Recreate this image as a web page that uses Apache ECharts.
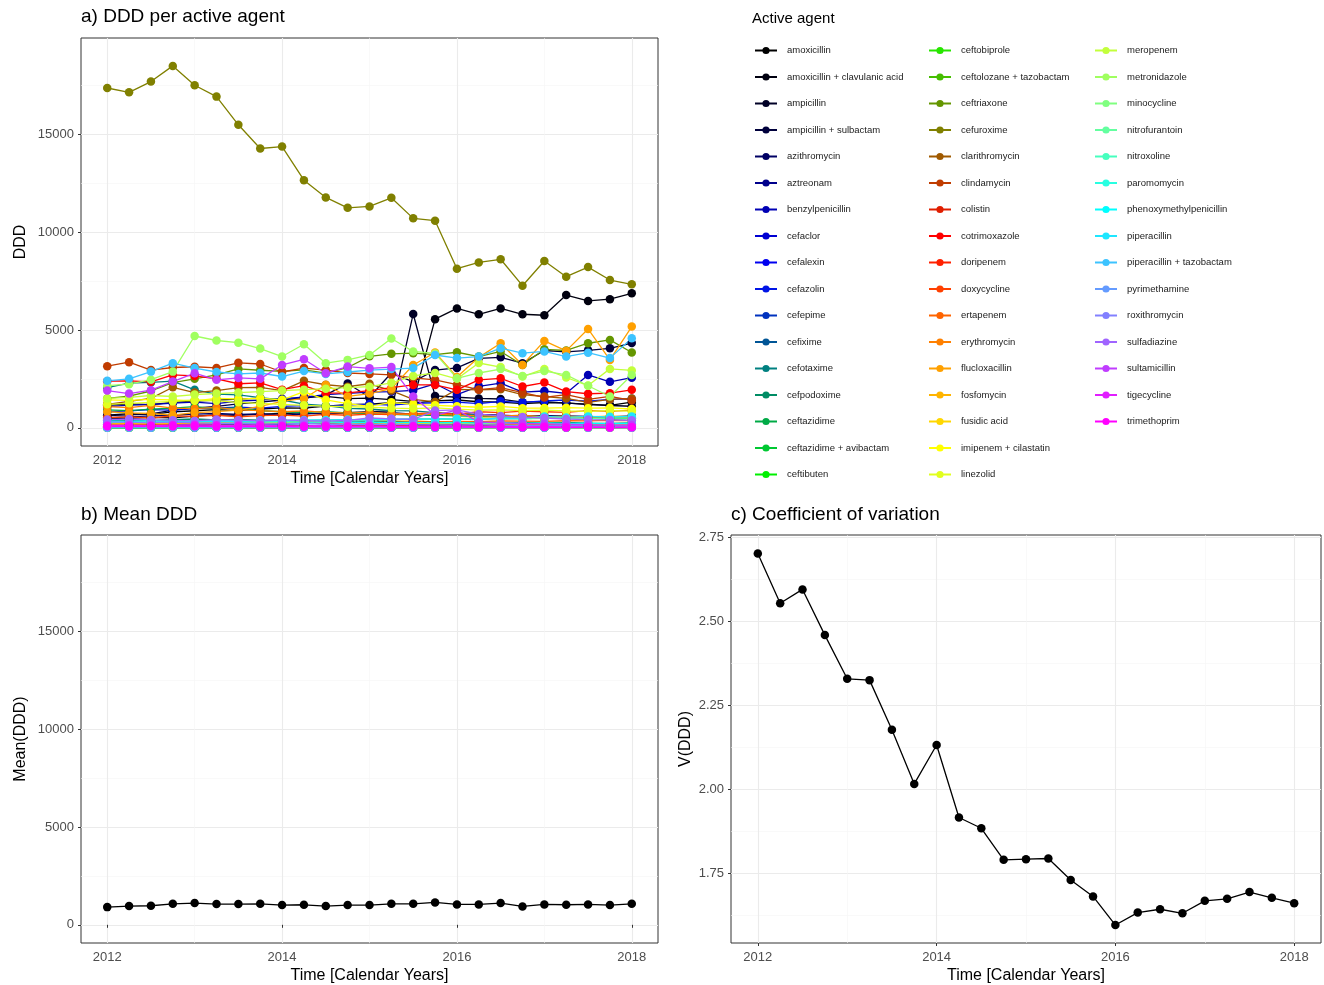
<!DOCTYPE html>
<html>
<head>
<meta charset="utf-8">
<script src="https://cdn.jsdelivr.net/npm/echarts@6/dist/echarts.min.js"></script>
<style>
html, body { margin: 0; padding: 0; background: #fff; }
#chart { width: 1324px; height: 985px; }
</style>
</head>
<body>
<div id="chart"></div>
<script>
// quarters 2012 .. 2018
var quarters = [2012, 2012.25, 2012.5, 2012.75, 2013, 2013.25, 2013.5, 2013.75, 2014, 2014.25, 2014.5, 2014.75,
  2015, 2015.25, 2015.5, 2015.75, 2016, 2016.25, 2016.5, 2016.75, 2017, 2017.25, 2017.5, 2017.75, 2018];

var yearTicks = [2012, 2014, 2016, 2018];
var yearMinor = [2013, 2015, 2017];
var dddTicks = [0, 5000, 10000, 15000];
var dddMinor = [2500, 7500, 12500, 17500];
var cvTicks = [1.75, 2.00, 2.25, 2.50, 2.75];
var cvMinor = [1.625, 1.875, 2.125, 2.375, 2.625];

var agents = ['amoxicillin', 'amoxicillin + clavulanic acid', 'ampicillin', 'ampicillin + sulbactam', 'azithromycin',
  'aztreonam', 'benzylpenicillin', 'cefaclor', 'cefalexin', 'cefazolin', 'cefepime', 'cefixime', 'cefotaxime',
  'cefpodoxime', 'ceftazidime', 'ceftazidime + avibactam', 'ceftibuten',
  'ceftobiprole', 'ceftolozane + tazobactam', 'ceftriaxone', 'cefuroxime', 'clarithromycin', 'clindamycin',
  'colistin', 'cotrimoxazole', 'doripenem', 'doxycycline', 'ertapenem', 'erythromycin', 'flucloxacillin',
  'fosfomycin', 'fusidic acid', 'imipenem + cilastatin', 'linezolid',
  'meropenem', 'metronidazole', 'minocycline', 'nitrofurantoin', 'nitroxoline', 'paromomycin',
  'phenoxymethylpenicillin', 'piperacillin', 'piperacillin + tazobactam', 'pyrimethamine', 'roxithromycin',
  'sulfadiazine', 'sultamicillin', 'tigecycline', 'trimethoprim'];

var agentColors = ['#000000', '#00000f', '#000026', '#00003c', '#000064', '#00008c', '#0000b4', '#0000d2', '#0000f0',
  '#0014e6', '#0032be', '#005596', '#008080', '#008c64', '#00aa46', '#00c832', '#00f000',
  '#28e600', '#46be00', '#649600', '#808000', '#a05a00', '#c03c00', '#e01e00', '#ff0000', '#ff2000',
  '#ff4000', '#ff6400', '#ff8000', '#ffa000', '#ffb400', '#ffd700', '#ffff00', '#e1ff1e',
  '#c3ff3c', '#a0ff60', '#80ff80', '#64ffa0', '#46ffbe', '#28ffe1', '#00ffff', '#1ee6ff', '#3cc3ff',
  '#649bff', '#8280ff', '#a064ff', '#c03cff', '#e11eff', '#ff00ff'];

// DDD per active agent, one array per agent
var amoxicillin = [640, 720, 690, 810, 870, 930, 880, 960, 1020, 1000, 1110, 1180, 1210, 1290, 1260, 1380, 1420, 1330, 1310, 1240, 1290, 1270, 1180, 1150, 1310];
var amoxiClav = [1150, 1220, 1180, 1300, 1360, 1410, 1470, 1520, 1380, 1560, 1610, 1490, 1520, 1440, 1350, 5550, 6100, 5800, 6100, 5800, 5750, 6780, 6480, 6570, 6870];
var ampicillin = [460, 480, 530, 510, 600, 660, 640, 700, 730, 760, 690, 780, 830, 860, 5816, 1630, 1560, 1500, 1470, 1310, 1340, 1260, 1210, 1140, 1100];
var ampiSulb = [620, 660, 710, 900, 1010, 1090, 1220, 1310, 1420, 1510, 1680, 2260, 1560, 2800, 2350, 2950, 3060, 3550, 3600, 3300, 3950, 3880, 3960, 4060, 4330];
var azithromycin = [520, 560, 610, 640, 700, 730, 680, 710, 640, 700, 760, 720, 800, 770, 700, 660, 710, 690, 650, 600, 620, 610, 580, 560, 610];
var aztreonam = [40, 45, 52, 55, 48, 60, 57, 50, 62, 66, 55, 61, 50, 56, 60, 64, 55, 61, 50, 57, 62, 66, 54, 60, 52];
var benzylpenicillin = [1080, 1160, 1190, 1260, 1310, 1240, 1360, 1420, 1490, 1560, 1690, 1760, 1820, 1850, 1910, 2250, 1690, 2120, 2280, 1820, 1880, 1760, 2700, 2350, 2560];
var cefaclor = [350, 320, 310, 330, 280, 300, 270, 250, 245, 230, 225, 200, 210, 185, 180, 175, 160, 150, 145, 130, 125, 110, 115, 100, 95];
var cefalexin = [150, 160, 140, 150, 130, 140, 150, 120, 130, 110, 120, 100, 110, 100, 90, 100, 80, 90, 85, 80, 70, 75, 80, 70, 65];
var cefazolin = [820, 860, 930, 900, 980, 1020, 1060, 1010, 1090, 1130, 1080, 1170, 1210, 1160, 1250, 1280, 1310, 1240, 1350, 1300, 1380, 1420, 1360, 1450, 1480];
var cefepime = [260, 280, 300, 290, 320, 340, 310, 350, 370, 360, 390, 410, 380, 420, 440, 430, 460, 450, 480, 470, 500, 490, 520, 510, 540];
var cefixime = [180, 170, 190, 160, 150, 170, 140, 130, 150, 120, 110, 130, 100, 110, 90, 100, 80, 90, 70, 80, 60, 70, 65, 55, 60];
var cefotaxime = [2050, 2280, 2320, 2380, 1940, 1720, 1680, 1540, 1420, 1210, 1130, 990, 960, 880, 860, 770, 720, 640, 610, 570, 530, 490, 500, 450, 470];
var cefpodoxime = [380, 410, 370, 420, 450, 400, 430, 390, 360, 380, 340, 350, 320, 330, 300, 310, 280, 290, 270, 260, 250, 270, 240, 230, 250];
var ceftazidime = [920, 880, 950, 1010, 1080, 980, 1020, 870, 820, 790, 830, 760, 720, 690, 650, 640, 610, 580, 560, 540, 500, 520, 480, 470, 490];
var ceftazAvi = [0, 0, 0, 0, 0, 0, 0, 0, 0, 0, 0, 0, 0, 0, 0, 0, 0, 0, 5, 10, 15, 20, 30, 25, 40];
var ceftibuten = [60, 55, 70, 65, 50, 60, 55, 45, 50, 40, 45, 35, 40, 30, 35, 30, 25, 30, 20, 25, 20, 15, 20, 15, 20];
var ceftobiprole = [0, 0, 0, 0, 5, 10, 8, 12, 10, 15, 12, 10, 8, 10, 12, 9, 11, 8, 10, 7, 9, 6, 8, 5, 7];
var ceftolTazo = [0, 0, 0, 0, 0, 0, 0, 0, 0, 0, 0, 0, 0, 0, 0, 10, 25, 40, 55, 60, 75, 80, 95, 90, 110];
var ceftriaxone = [1500, 1620, 1880, 2310, 2500, 2700, 3010, 2940, 2880, 2960, 2790, 3080, 3650, 3780, 3810, 3740, 3860, 3640, 3900, 3210, 4010, 3950, 4320, 4490, 3850];
var cefuroxime = [17360, 17140, 17690, 18490, 17500, 16920, 15480, 14270, 14370, 12650, 11770, 11240, 11310, 11750, 10700, 10580, 8130, 8450, 8610, 7260, 8520, 7720, 8210, 7550, 7330];
var clarithromycin = [1200, 1350, 1500, 2070, 1800, 1900, 2050, 2060, 1900, 2400, 2200, 2100, 2250, 1900, 1450, 1320, 1960, 1940, 1970, 1700, 1600, 1500, 1300, 1450, 1500];
var clindamycin = [3150, 3350, 2950, 3080, 3120, 3060, 3320, 3260, 2850, 3050, 2950, 2800, 2750, 2700, 2550, 2450, 2200, 1950, 2050, 1800, 1550, 1700, 1450, 1600, 1400];
var colistin = [60, 72, 64, 83, 71, 92, 86, 104, 93, 112, 101, 124, 117, 131, 122, 143, 133, 152, 141, 164, 150, 172, 161, 183, 170];
var cotrimoxazole = [2380, 2400, 2350, 2700, 2650, 2500, 2250, 2300, 1950, 2150, 1770, 1780, 1900, 2050, 2190, 2190, 1940, 2450, 2530, 2110, 2310, 1850, 1740, 1770, 1940];
var doripenem = [30, 35, 28, 40, 22, 18, 20, 15, 12, 10, 8, 6, 5, 4, 3, 2, 0, 0, 0, 0, 0, 0, 0, 0, 0];
var doxycycline = [520, 560, 500, 610, 580, 640, 560, 620, 650, 600, 690, 640, 700, 680, 720, 760, 700, 820, 780, 850, 820, 790, 880, 840, 900];
var ertapenem = [150, 170, 160, 190, 210, 200, 230, 220, 250, 240, 270, 260, 290, 280, 310, 300, 330, 320, 350, 340, 330, 360, 350, 380, 370];
var erythromycin = [1080, 1030, 1150, 1000, 980, 1040, 920, 880, 820, 860, 790, 750, 800, 720, 680, 700, 650, 620, 590, 640, 560, 600, 540, 580, 520];
var flucloxacillin = [820, 760, 730, 650, 780, 830, 900, 1100, 1350, 1500, 2190, 1600, 1750, 2000, 3210, 3850, 2600, 3600, 4320, 3210, 4440, 3930, 5050, 3470, 5170];
var fosfomycin = [200, 220, 250, 230, 270, 300, 280, 330, 310, 350, 340, 380, 400, 420, 390, 450, 470, 500, 480, 520, 540, 510, 560, 590, 570];
var fusidicAcid = [300, 280, 320, 290, 260, 300, 270, 250, 280, 240, 260, 230, 250, 220, 240, 210, 230, 200, 220, 190, 210, 180, 200, 170, 190];
var imipenem = [1430, 1400, 1450, 1420, 1380, 1500, 1470, 1510, 1430, 1850, 1430, 1230, 1090, 1300, 1200, 1150, 1100, 1050, 1090, 1000, 1010, 1030, 1000, 1020, 960];
var linezolid = [1200, 1250, 1300, 1350, 1420, 1380, 1300, 1250, 1200, 1150, 1100, 1080, 1050, 1000, 980, 1020, 950, 900, 920, 880, 900, 860, 840, 880, 850];
var meropenem = [1500, 1550, 1650, 1600, 1700, 1750, 1800, 1850, 1900, 1950, 2000, 2050, 2100, 2300, 2650, 2800, 2500, 3310, 3100, 2620, 3010, 2570, 2160, 3010, 2930];
var metronidazole = [2150, 2230, 2460, 2870, 4690, 4460, 4350, 4050, 3640, 4270, 3300, 3470, 3720, 4560, 3900, 3800, 2530, 2800, 3000, 2650, 2900, 2700, 2150, 1600, 2700];
var minocycline = [50, 45, 60, 55, 40, 50, 45, 35, 40, 30, 35, 25, 30, 20, 25, 20, 15, 20, 10, 15, 10, 12, 8, 10, 8];
var nitrofurantoin = [280, 300, 320, 310, 340, 330, 360, 350, 380, 370, 400, 390, 420, 410, 440, 430, 460, 450, 470, 460, 480, 490, 470, 500, 490];
var nitroxoline = [20, 25, 30, 28, 35, 32, 40, 38, 45, 42, 50, 48, 55, 52, 60, 58, 65, 62, 70, 68, 75, 72, 80, 78, 85];
var paromomycin = [10, 12, 8, 15, 11, 9, 14, 10, 13, 8, 12, 9, 11, 10, 7, 12, 9, 11, 8, 10, 9, 12, 8, 11, 10];
var phenoxymethylpenicillin = [350, 320, 380, 340, 300, 330, 310, 290, 320, 280, 300, 270, 290, 260, 280, 250, 270, 240, 260, 230, 250, 220, 240, 210, 230];
var piperacillin = [300, 320, 280, 350, 330, 360, 340, 380, 370, 400, 390, 420, 410, 450, 430, 470, 460, 410, 500, 480, 580, 530, 580, 560, 580];
var pipTazo = [2400, 2500, 2870, 3300, 3050, 2850, 2750, 2800, 2620, 2900, 2750, 2850, 2950, 3000, 3050, 3720, 3560, 3640, 4070, 3810, 3900, 3640, 3840, 3560, 4580];
var pyrimethamine = [5, 8, 6, 10, 7, 5, 9, 6, 8, 5, 7, 6, 4, 8, 5, 7, 6, 4, 5, 6, 3, 5, 4, 6, 5];
var roxithromycin = [300, 280, 260, 290, 250, 230, 240, 210, 200, 220, 190, 180, 170, 190, 160, 150, 140, 160, 130, 120, 110, 130, 100, 90, 110];
var sulfadiazine = [420, 450, 400, 380, 350, 420, 390, 360, 400, 370, 340, 380, 500, 460, 430, 880, 920, 700, 600, 550, 500, 450, 420, 400, 380];
var sultamicillin = [1900, 1750, 1920, 2360, 2790, 2450, 2550, 2500, 3210, 3500, 2790, 3130, 3040, 3100, 1600, 650, 900, 300, 250, 220, 200, 180, 160, 150, 140];
var tigecycline = [120, 130, 110, 140, 150, 130, 120, 140, 110, 100, 120, 90, 100, 80, 90, 70, 80, 60, 70, 50, 60, 40, 50, 30, 40];
var trimethoprim = [80, 70, 90, 75, 85, 60, 70, 55, 65, 50, 60, 45, 55, 40, 50, 35, 45, 30, 40, 25, 35, 20, 30, 15, 25];

var agentValues = [amoxicillin, amoxiClav, ampicillin, ampiSulb, azithromycin, aztreonam, benzylpenicillin, cefaclor,
  cefalexin, cefazolin, cefepime, cefixime, cefotaxime, cefpodoxime, ceftazidime, ceftazAvi, ceftibuten,
  ceftobiprole, ceftolTazo, ceftriaxone, cefuroxime, clarithromycin, clindamycin, colistin, cotrimoxazole,
  doripenem, doxycycline, ertapenem, erythromycin, flucloxacillin, fosfomycin, fusidicAcid, imipenem, linezolid,
  meropenem, metronidazole, minocycline, nitrofurantoin, nitroxoline, paromomycin, phenoxymethylpenicillin,
  piperacillin, pipTazo, pyrimethamine, roxithromycin, sulfadiazine, sultamicillin, tigecycline, trimethoprim];

// b) mean DDD, c) coefficient of variation
var meanDDD = [903, 955, 972, 1074, 1108, 1057, 1057, 1074, 1006, 1023, 955, 1006, 1006, 1074, 1074, 1142,
  1040, 1040, 1108, 938, 1040, 1023, 1040, 1006, 1074];
var cvDDD = [2.702, 2.554, 2.595, 2.459, 2.329, 2.325, 2.177, 2.016, 2.132, 1.916, 1.884, 1.790, 1.792, 1.794,
  1.730, 1.681, 1.596, 1.633, 1.643, 1.631, 1.668, 1.674, 1.694, 1.677, 1.661];

var FONT = "'Liberation Sans', Arial, sans-serif";
var MAJOR = '#ebebeb', MINOR = '#f5f5f5';

function pairs(vals) {
  return quarters.map(function (q, k) { return [q, vals[k]]; });
}

function plain(v) { return String(v); }

function xAxesFor(gi) {
  return [{
    type: 'value', gridIndex: gi, min: 2011.7, max: 2018.3,
    name: 'Time [Calendar Years]', nameLocation: 'middle', nameGap: 25,
    nameTextStyle: { fontFamily: FONT, fontSize: 16, color: '#000' },
    axisLine: { show: false },
    axisTick: { show: true, length: 3, lineStyle: { color: '#333' }, customValues: yearTicks },
    axisLabel: { customValues: yearTicks, margin: 8, color: '#4d4d4d', fontSize: 13, fontFamily: FONT, formatter: plain },
    splitLine: { show: true, lineStyle: { color: MAJOR, width: 1.1 } }
  }, {
    type: 'value', gridIndex: gi, min: 2011.7, max: 2018.3, position: 'bottom',
    axisLine: { show: false },
    axisTick: { show: false, customValues: yearMinor },
    axisLabel: { show: false, customValues: yearMinor },
    splitLine: { show: true, lineStyle: { color: MINOR, width: 0.6 } }
  }];
}

function yAxesFor(gi, name, gap, min, max, ticks, minor, fmt) {
  return [{
    type: 'value', gridIndex: gi, min: min, max: max,
    name: name, nameLocation: 'middle', nameGap: gap,
    nameTextStyle: { fontFamily: FONT, fontSize: 16, color: '#000' },
    axisLine: { show: false },
    axisTick: { show: true, length: 3, lineStyle: { color: '#333' }, customValues: ticks },
    axisLabel: { customValues: ticks, margin: 7, color: '#4d4d4d', fontSize: 13, fontFamily: FONT, formatter: fmt },
    splitLine: { show: true, lineStyle: { color: MAJOR, width: 1.1 } }
  }, {
    type: 'value', gridIndex: gi, min: min, max: max, position: 'left',
    axisLine: { show: false },
    axisTick: { show: false, customValues: minor },
    axisLabel: { show: false, customValues: minor },
    splitLine: { show: true, lineStyle: { color: MINOR, width: 0.6 } }
  }];
}

var series = [];
agents.forEach(function (name, i) {
  series.push({
    type: 'line', name: name, xAxisIndex: 0, yAxisIndex: 0, data: pairs(agentValues[i]),
    symbol: 'circle', showSymbol: false, silent: true, z: 2,
    lineStyle: { color: agentColors[i], width: 1.3 }, itemStyle: { color: agentColors[i] }
  });
});
agents.forEach(function (name, i) {
  series.push({
    type: 'scatter', name: name, xAxisIndex: 0, yAxisIndex: 0, data: pairs(agentValues[i]),
    symbol: 'circle', symbolSize: 8.5, silent: true, z: 3,
    itemStyle: { color: agentColors[i], opacity: 1 }
  });
});
[[meanDDD, 2, 2], [cvDDD, 4, 4]].forEach(function (s) {
  series.push({
    type: 'line', xAxisIndex: s[1], yAxisIndex: s[2], data: pairs(s[0]),
    symbol: 'circle', symbolSize: 8.5, showSymbol: true, silent: true,
    lineStyle: { color: '#000', width: 1.3 }, itemStyle: { color: '#000' }
  });
});

function legendCol(names, left) {
  return {
    data: names, orient: 'vertical', left: left, top: 45.5, padding: 0,
    itemWidth: 22, itemHeight: 9, itemGap: 16.5, selectedMode: false,
    textStyle: { fontFamily: FONT, fontSize: 9.5, color: '#1a1a1a', lineHeight: 9, padding: [0, 0, 0, 5] }
  };
}

var titleStyle = { fontFamily: FONT, fontSize: 19, fontWeight: 'normal', color: '#000' };

var option = {
  animation: false,
  backgroundColor: '#fff',
  title: [
    { text: 'a) DDD per active agent', left: 81, top: 7, padding: 0, textStyle: titleStyle },
    { text: 'b) Mean DDD', left: 81, top: 505, padding: 0, textStyle: titleStyle },
    { text: 'c) Coefficient of variation', left: 731, top: 505, padding: 0, textStyle: titleStyle },
    { text: 'Active agent', left: 752, top: 11, padding: 0,
      textStyle: { fontFamily: FONT, fontSize: 15, fontWeight: 'normal', color: '#000' } }
  ],
  legend: [legendCol(agents.slice(0, 17), 754), legendCol(agents.slice(17, 34), 928), legendCol(agents.slice(34), 1094)],
  grid: [
    { left: 81, top: 38, width: 577, height: 408, show: true, borderColor: '#333', borderWidth: 1, backgroundColor: 'transparent' },
    { left: 81, top: 535, width: 577, height: 408, show: true, borderColor: '#333', borderWidth: 1, backgroundColor: 'transparent' },
    { left: 731, top: 535, width: 590, height: 408, show: true, borderColor: '#333', borderWidth: 1, backgroundColor: 'transparent' }
  ],
  xAxis: xAxesFor(0).concat(xAxesFor(1), xAxesFor(2)),
  yAxis: yAxesFor(0, 'DDD', 52, -930, 19915, dddTicks, dddMinor, plain)
    .concat(yAxesFor(1, 'Mean(DDD)', 52, -930, 19915, dddTicks, dddMinor, plain),
      yAxesFor(2, 'V(DDD)', 37, 1.5425, 2.757, cvTicks, cvMinor, function (v) { return v.toFixed(2); })),
  series: series
};

var chart = echarts.init(document.getElementById('chart'), null, { renderer: 'canvas' });
chart.setOption(option);
</script>
</body>
</html>
